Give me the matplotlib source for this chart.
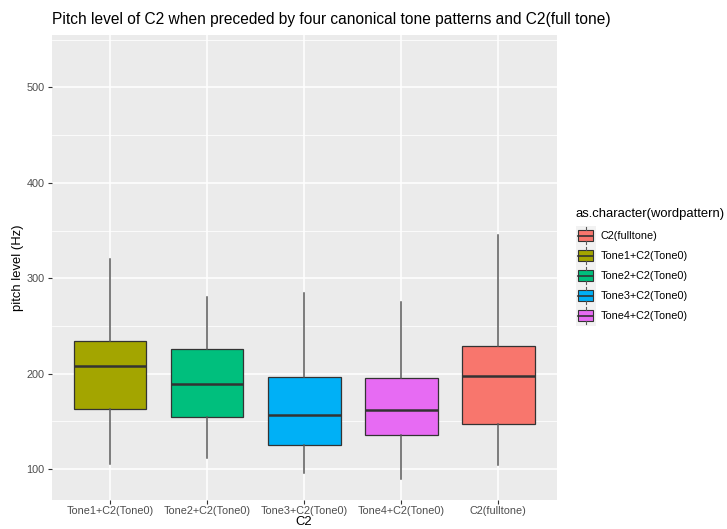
import matplotlib
matplotlib.use("Agg")
import matplotlib.pyplot as plt
from matplotlib.patches import Rectangle
from matplotlib.lines import Line2D
from matplotlib.legend_handler import HandlerBase

plt.rcParams['font.family'] = ['Liberation Sans', 'DejaVu Sans']

# DATA
categories = ['Tone1+C2(Tone0)', 'Tone2+C2(Tone0)', 'Tone3+C2(Tone0)',
              'Tone4+C2(Tone0)', 'C2(fulltone)']
whisker_low = [105, 111, 95.5, 89.5, 104]
q1 = [163, 154.5, 125.5, 135.5, 147]
median = [208, 189, 156.5, 162, 198]
q3 = [234, 226, 196, 195, 229]
whisker_high = [320, 280, 284, 275, 345]

fill_colors = {'C2(fulltone)': '#F8766D', 'Tone1+C2(Tone0)': '#A3A500',
               'Tone2+C2(Tone0)': '#00BF7D', 'Tone3+C2(Tone0)': '#00B0F6',
               'Tone4+C2(Tone0)': '#E76BF3'}
legend_order = sorted(categories)

# FIGURE
fig = plt.figure(figsize=(7.27, 5.29), dpi=100)
ax = fig.add_axes([51.7/727, 1 - 499.5/529, (556.5 - 51.7)/727, (499.5 - 35)/529])
ax.set_facecolor('#EBEBEB')

stats = []
for i, c in enumerate(categories):
    stats.append(dict(label=c, whislo=whisker_low[i], q1=q1[i], med=median[i],
                      q3=q3[i], whishi=whisker_high[i], fliers=[]))

bp = ax.bxp(stats, positions=range(1, len(categories) + 1), widths=0.75,
            patch_artist=True, showcaps=False, showfliers=False,
            boxprops=dict(edgecolor='#333333', linewidth=0.9),
            medianprops=dict(color='#333333', linewidth=1.8),
            whiskerprops=dict(color='#595959', linewidth=1.1), zorder=3)
for patch, c in zip(bp['boxes'], categories):
    patch.set_facecolor(fill_colors[c])

ax.set_xlim(0.4, 5.6)
ax.set_ylim(68, 555)
ax.set_yticks([100, 200, 300, 400, 500])
ax.set_yticks([150, 250, 350, 450, 550], minor=True)
ax.set_xticks(range(1, len(categories) + 1))
ax.set_xticklabels(categories)

ax.grid(which='major', color='white', linewidth=1.1, zorder=0)
ax.grid(which='minor', axis='y', color='white', linewidth=0.55, zorder=0)
ax.set_axisbelow(True)
for s in ax.spines.values():
    s.set_visible(False)
ax.tick_params(which='major', length=3, width=0.8, color='#333333',
               labelcolor='#4D4D4D', labelsize=7.8, pad=2)
ax.tick_params(which='minor', length=0)

ax.set_xlabel('C2', fontsize=9.4, labelpad=0)
ax.set_ylabel('pitch level (Hz)', fontsize=9.4)
ax.yaxis.set_label_coords((24 - 51.7) / 504.8, 0.5)
ax.set_title('Pitch level of C2 when preceded by four canonical tone patterns and C2(full tone)',
             fontsize=11.2, loc='left', pad=8)


# legend key drawn as a small boxplot, like ggplot
class BoxKey(HandlerBase):
    def create_artists(self, legend, orig_handle, xdescent, ydescent,
                       width, height, fontsize, trans):
        x0, y0 = -xdescent, -ydescent
        cx = x0 + width / 2
        bg = Rectangle((x0, y0), width, height, facecolor='#F2F2F2',
                       edgecolor='none', transform=trans)
        box = Rectangle((x0 + width * 0.125, y0 + height * 0.22), width * 0.75,
                        height * 0.56, facecolor=orig_handle.get_facecolor(),
                        edgecolor='#333333', lw=0.8, transform=trans)
        med = Line2D([x0 + width * 0.125, x0 + width * 0.875], [y0 + height / 2] * 2,
                     color='#333333', lw=1.2, transform=trans)
        w1 = Line2D([cx, cx], [y0 + height * 0.78, y0 + height * 0.92],
                    color='#595959', lw=0.8, transform=trans)
        w2 = Line2D([cx, cx], [y0 + height * 0.08, y0 + height * 0.22],
                    color='#595959', lw=0.8, transform=trans)
        return [bg, box, med, w1, w2]


handles = [Rectangle((0, 0), 1, 1, facecolor=fill_colors[c]) for c in legend_order]
key_pt = 20 * 72 / 100
leg_fs = 7.8
key_h = (key_pt / leg_fs - 0.245) / 0.65
leg = fig.legend(handles, legend_order, handler_map={Rectangle: BoxKey()},
                 loc='upper left', bbox_to_anchor=(575.5/727, 1 - 208/529),
                 frameon=False, fontsize=leg_fs, title='as.character(wordpattern)',
                 title_fontsize=9.4, alignment='left', labelspacing=0,
                 handlelength=key_pt / leg_fs, handleheight=key_h, handletextpad=0.5,
                 borderpad=0, borderaxespad=0)
leg._legend_box.sep = 4

fig.savefig('out.png', dpi=100, facecolor='white')
